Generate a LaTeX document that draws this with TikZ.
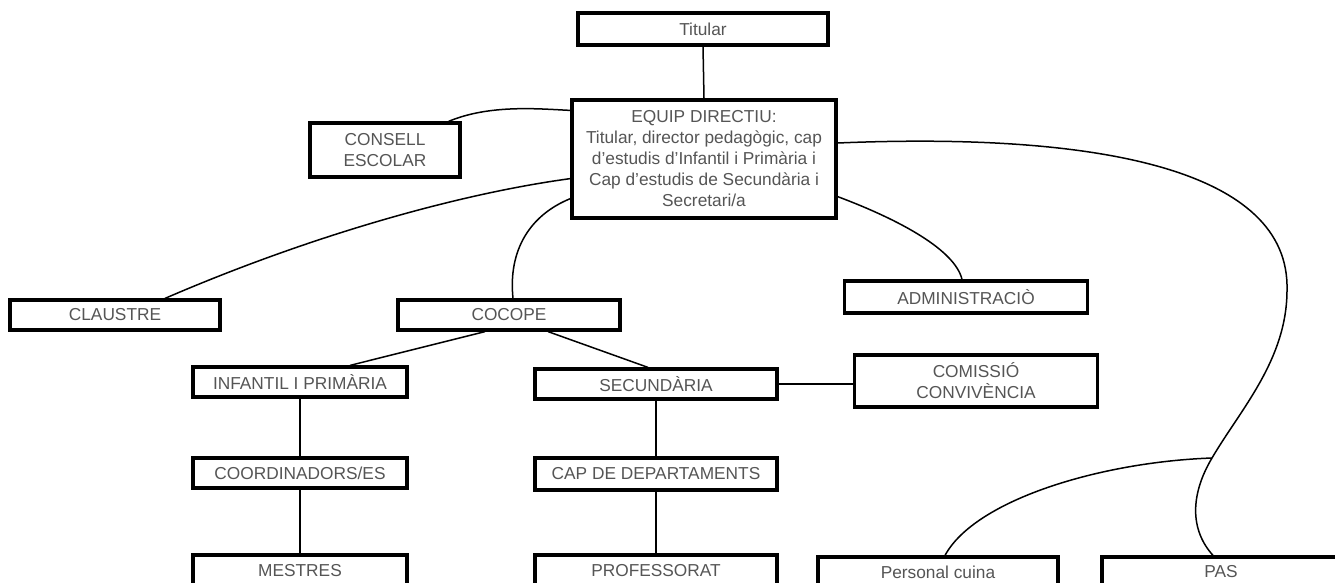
\documentclass[tikz,border=0pt]{standalone}
\usepackage{fontspec}
\setmainfont{Liberation Sans}
\usetikzlibrary{positioning}
\definecolor{txtgray}{RGB}{85,85,85}
\tikzset{
  box/.style={draw=black, line width=3.2pt, fill=white, rectangle, inner sep=0pt,
    text=txtgray, font=\fontsize{17.3}{21}\selectfont, align=center},
  conn/.style={draw=black, line width=1.5pt}
}
\begin{document}
\begin{tikzpicture}[x=1pt,y=-1pt]
\useasboundingbox (0,0) rectangle (1335,583);
\clip (0,0) rectangle (1335,583);
\fill[white] (0,0) rectangle (1335,583);

\node[box, minimum width=250pt, minimum height=32pt] (tit) at (703,29) {Titular};
\node[box, minimum width=264pt, minimum height=118pt] (eq) at (704,159) {EQUIP DIRECTIU:\\Titular, director pedagògic, cap\\d’estudis d’Infantil i Primària i\\Cap d’estudis de Secundària i\\Secretari/a};
\node[box, minimum width=150pt, minimum height=54pt] (cons) at (385,150) {CONSELL\\ESCOLAR};
\node[box, minimum width=210pt, minimum height=30pt] (claus) at (115,315) {CLAUSTRE};
\node[box, minimum width=222pt, minimum height=30pt] (cocope) at (509,315) {COCOPE};
\node[box, minimum width=243pt, minimum height=32pt] (admin) at (966,297) {ADMINISTRACIÒ};
\node[box, minimum width=214pt, minimum height=30pt] (inf) at (300,382) {INFANTIL I PRIMÀRIA};
\node[box, minimum width=242pt, minimum height=30pt] (sec) at (656,384) {SECUNDÀRIA};
\node[box, minimum width=243pt, minimum height=52pt] (com) at (976,381) {COMISSIÓ\\CONVIVÈNCIA};
\node[box, minimum width=214pt, minimum height=30pt] (coord) at (300,473) {COORDINADORS/ES};
\node[box, minimum width=242pt, minimum height=32pt] (cap) at (656,474) {CAP DE DEPARTAMENTS};
\node[box, minimum width=214pt, minimum height=32pt] (mes) at (300,571) {MESTRES};
\node[box, minimum width=242pt, minimum height=32pt] (prof) at (656,571) {PROFESSORAT};
\node[box, minimum width=240pt, minimum height=30pt] (cuina) at (938,572) {Personal cuina};
\node[box, minimum width=238pt, minimum height=30pt] (pas) at (1221,572) {PAS};

\coordinate (r) at (1287,290);
\coordinate (j) at (1212,458);

\draw[conn] (tit.south) -- (eq.north);
\draw[conn] ([xshift=-13pt]cons.north east) .. controls (490,104) and (540,109) .. ([yshift=-12pt]eq.north west);
\draw[conn] ([xshift=50pt]claus.north) .. controls (300,240) and (450,195) .. ([yshift=41pt]eq.south west);
\draw[conn] ([xshift=4pt]cocope.north) .. controls (508,250) and (530,215) .. ([yshift=21pt]eq.south west);
\draw[conn] ([yshift=23pt]eq.south east) .. controls (900,220) and (955,250) .. ([xshift=-4pt]admin.north);
\draw[conn] ([yshift=16pt]eq.east) .. controls (1100,132) and (1290,170) .. (r)
  .. controls (1287,360) and (1240,410) .. (j)
  .. controls (1190,495) and (1190,530) .. ([xshift=-8pt]pas.north);
\draw[conn] (j) .. controls (1100,462) and (975,500) .. ([xshift=7pt]cuina.north);
\draw[conn] ([xshift=-24pt]cocope.south) -- ([xshift=50pt]inf.north);
\draw[conn] ([xshift=39pt]cocope.south) -- ([xshift=-8pt]sec.north);
\draw[conn] (inf.south) -- (coord.north);
\draw[conn] (coord.south) -- (mes.north);
\draw[conn] (sec.south) -- (cap.north);
\draw[conn] (cap.south) -- (prof.north);
\draw[conn] (sec.east) -- (sec.east -| com.west);
\end{tikzpicture}
\end{document}
